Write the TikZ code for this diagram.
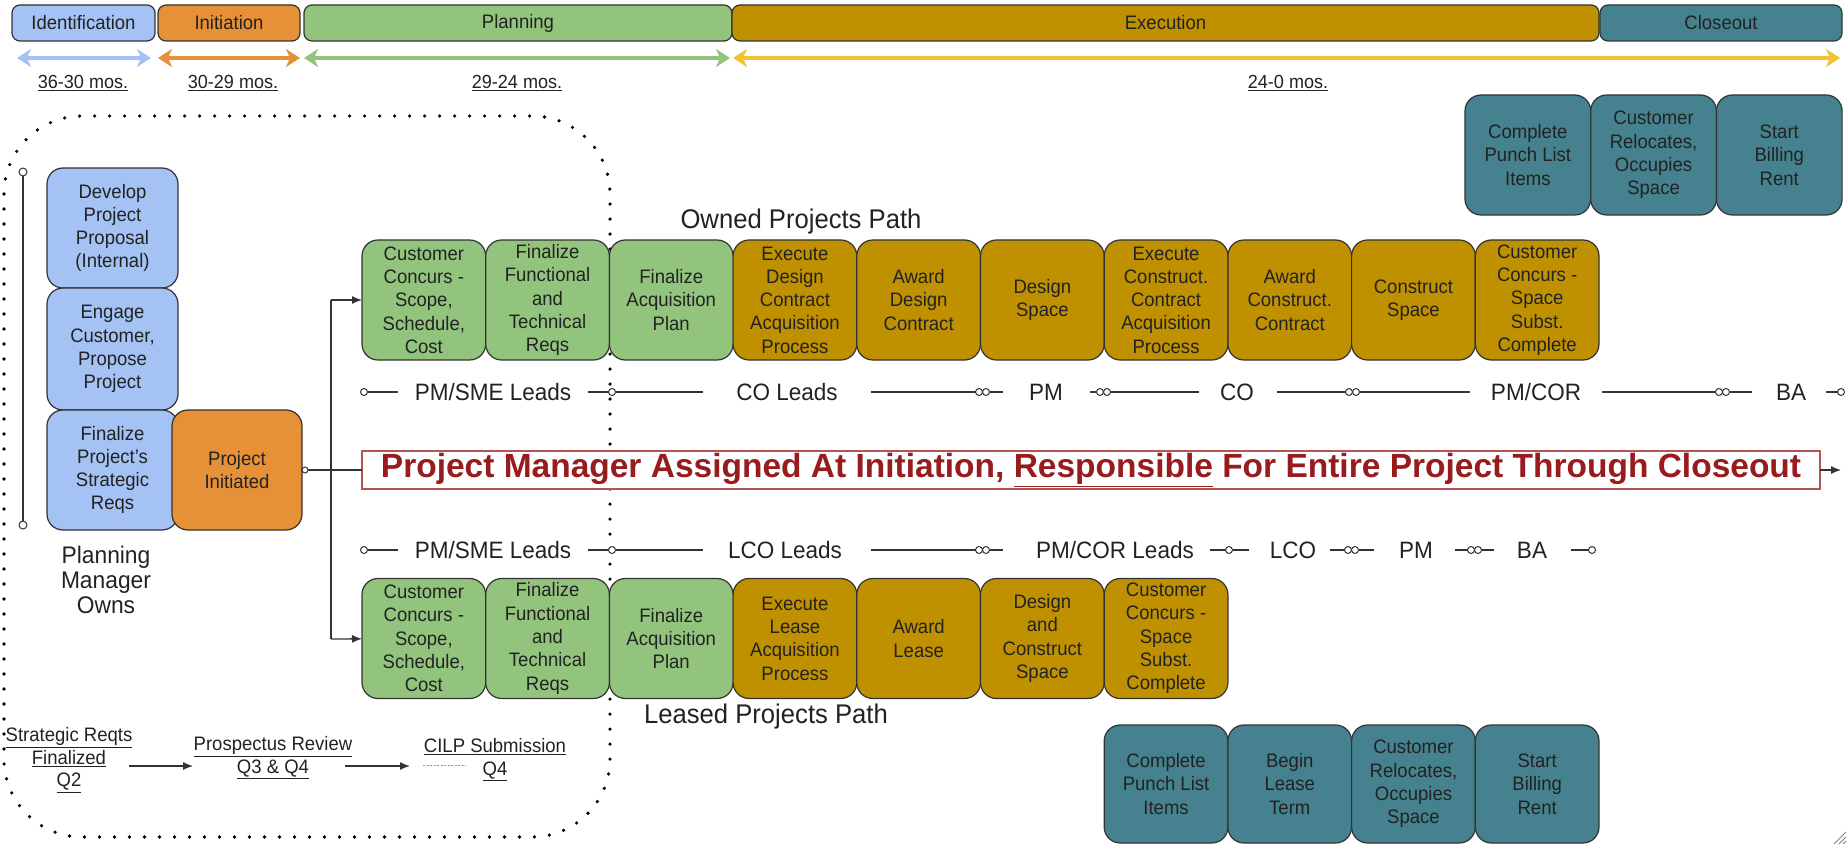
\documentclass[tikz,border=0pt]{standalone}
\usepackage{fontspec}
\setmainfont{Liberation Sans}[FakeStretch=0.95]
\newfontfamily\bannerfont{Liberation Sans}
\usetikzlibrary{arrows.meta,calc}

\definecolor{idblue}{HTML}{A4C2F4}
\definecolor{initorange}{HTML}{E69138}
\definecolor{plangreen}{HTML}{93C47D}
\definecolor{execgold}{HTML}{BF9000}
\definecolor{closeteal}{HTML}{45818E}
\definecolor{arrowyellow}{HTML}{F1C232}
\definecolor{bannerred}{HTML}{981B1E}
\definecolor{edgegray}{HTML}{333333}
\definecolor{inkgray}{HTML}{222222}

\newcommand\undl[1]{\underline{#1}}

\begin{document}
\begin{tikzpicture}[x=1pt,y=-1pt,
  every node/.style={inner sep=0pt, outer sep=0pt, text=inkgray},
  boxtext/.style={font=\fontsize{19.5}{23.3}\selectfont, align=center},
  stepbox/.style={boxtext, draw=edgegray, line width=1.2pt, rounded corners=16pt,
                  minimum width=123.7pt, minimum height=120pt},
  planbox/.style={stepbox, fill=plangreen},
  execbox/.style={stepbox, fill=execgold},
  closebox/.style={stepbox, fill=closeteal},
  phase/.style={boxtext, draw=edgegray, line width=1.2pt, rounded corners=8pt, minimum height=36pt},
  timearrow/.style={line width=4pt,
     {Stealth[length=14pt,width=18pt,inset=4pt]}-{Stealth[length=14pt,width=18pt,inset=4pt]}},
  moslabel/.style={font=\fontsize{19}{22}\selectfont},
  leadtext/.style={font=\fontsize{23.7}{26}\selectfont},
  leadline/.style={draw=edgegray, line width=1.2pt},
  ring/.style={circle, draw=edgegray, fill=white, line width=1pt, minimum size=7pt},
  flow/.style={draw=edgegray, line width=1.3pt},
  milestone/.style={font=\fontsize{19.5}{22.5}\selectfont, align=center},
  dotline/.style={draw=black, line width=3.6pt, line cap=round, dash pattern=on 0pt off 15pt}
]
\useasboundingbox (0,0) rectangle (1848,845);

% ---------- phase bar ----------
\node[phase, fill=idblue,     minimum width=143pt] (ph-id)   at (83.5,23)  {Identification};
\node[phase, fill=initorange, minimum width=142pt] (ph-init) at (229,23)   {Initiation};
\node[phase, fill=plangreen,  minimum width=428pt] (ph-plan) at (518,23)   {Planning};
\node[phase, fill=execgold,   minimum width=867pt] (ph-exec) at (1165.5,23){Execution};
\node[phase, fill=closeteal,  minimum width=242pt] (ph-close) at (1721,23) {Closeout};

% ---------- durations ----------
\coordinate (t-id-a) at (17,58);    \coordinate (t-id-b) at (151,58);
\coordinate (t-in-a) at (158,58);   \coordinate (t-in-b) at (300,58);
\coordinate (t-pl-a) at (304,58);   \coordinate (t-pl-b) at (730,58);
\coordinate (t-ex-a) at (733,58);   \coordinate (t-ex-b) at (1840,58);
\draw[timearrow, draw=idblue, fill=idblue]           (t-id-a) -- (t-id-b);
\draw[timearrow, draw=initorange, fill=initorange]   (t-in-a) -- (t-in-b);
\draw[timearrow, draw=plangreen, fill=plangreen]     (t-pl-a) -- (t-pl-b);
\draw[timearrow, draw=arrowyellow, fill=arrowyellow] (t-ex-a) -- (t-ex-b);

\node[moslabel] (mos-id)   at (83,83)   {\undl{36-30 mos.}};
\node[moslabel] (mos-init) at (233,83)  {\undl{30-29 mos.}};
\node[moslabel] (mos-plan) at (517,83)  {\undl{29-24 mos.}};
\node[moslabel] (mos-exec) at (1288,83) {\undl{24-0 mos.}};

% ---------- planning manager scope ----------
\draw[dotline] (4,116) [rounded corners=78pt] rectangle (610,837);

\node[ring, minimum size=8pt] (pm-top) at (23,172) {};
\node[ring, minimum size=8pt] (pm-bot) at (23,525) {};
\draw[leadline] (pm-top) -- (pm-bot);

\node[stepbox, fill=idblue, minimum width=131pt] (develop)  at (112.5,228) {Develop\\Project\\Proposal\\(Internal)};
\node[stepbox, fill=idblue, minimum width=131pt, minimum height=122pt] (engage) at (112.5,349) {Engage\\Customer,\\Propose\\Project};
\node[stepbox, fill=idblue, minimum width=131pt] (strategic) at (112.5,470) {Finalize\\Project's\\Strategic\\Reqs};
\node[stepbox, fill=initorange, minimum width=130pt] (initiated) at (237,470) {Project\\Initiated};

\node[font=\fontsize{24}{25}\selectfont, align=center] (pm-owns) at (106,580) {Planning\\Manager\\Owns};

% milestones
\node[milestone] (ms-reqts) at (69,760)  {\undl{Strategic Reqts}\\\undl{Finalized}\\\undl{Q2}};
\node[milestone] (ms-prosp) at (273,758) {\undl{Prospectus Review}\\\undl{Q3 \& Q4}};
\node[milestone] (ms-cilp)  at (495,760) {\undl{CILP Submission}\\\undl{Q4}};
\coordinate (ms-a1) at (129,766); \coordinate (ms-b1) at (193,766);
\coordinate (ms-a2) at (345,766); \coordinate (ms-b2) at (410,766);
\draw[flow, -{Latex[length=10pt,width=8pt]}] (ms-a1) -- (ms-b1);
\draw[flow, -{Latex[length=10pt,width=8pt]}] (ms-a2) -- (ms-b2);
\coordinate (cilp-sq-a) at (423,765); \coordinate (cilp-sq-b) at (466,765);
\draw[red!60, line width=0.9pt, dash pattern=on 2pt off 1.5pt] (cilp-sq-a) -- (cilp-sq-b);

% ---------- owned path ----------
\node[font=\fontsize{27}{30}\selectfont] (owned-title) at (801,222) {Owned Projects Path};
\node[planbox] (own1)  at (423.85,300) {Customer\\Concurs -\\Scope,\\Schedule,\\Cost};
\node[planbox] (own2)  at (547.55,300) {Finalize\\Functional\\and\\Technical\\Reqs};
\node[planbox] (own3)  at (671.25,300) {Finalize\\Acquisition\\Plan};
\node[execbox] (own4)  at (794.95,300) {Execute\\Design\\Contract\\Acquisition\\Process};
\node[execbox] (own5)  at (918.65,300) {Award\\Design\\Contract};
\node[execbox] (own6)  at (1042.35,300) {Design\\Space};
\node[execbox] (own7)  at (1166.05,300) {Execute\\Construct.\\Contract\\Acquisition\\Process};
\node[execbox] (own8)  at (1289.75,300) {Award\\Construct.\\Contract};
\node[execbox] (own9)  at (1413.45,300) {Construct\\Space};
\node[execbox] (own10) at (1537.15,300) {Customer\\Concurs -\\Space\\Subst.\\Complete};

\node[closebox, minimum width=125.7pt] (ownc1) at (1527.85,155) {Complete\\Punch List\\Items};
\node[closebox, minimum width=125.7pt] (ownc2) at (1653.55,155) {Customer\\Relocates,\\Occupies\\Space};
\node[closebox, minimum width=125.7pt] (ownc3) at (1779.25,155) {Start\\Billing\\Rent};

% owned leads
\node[ring] (o-r0) at (364,392) {};  \coordinate (o-e0) at (398,392);
\draw[leadline] (o-r0) -- (o-e0);
\node[leadtext] (o-pmsme) at (493,392) {PM/SME Leads};
\coordinate (o-s1) at (588,392); \node[ring] (o-r1) at (612,392) {}; \coordinate (o-e1) at (703,392);
\draw[leadline] (o-s1) -- (o-r1) -- (o-e1);
\node[leadtext] (o-co) at (787,392) {CO Leads};
\coordinate (o-s2) at (871,392); \node[ring] (o-r2a) at (979,392) {}; \node[ring] (o-r2b) at (986,392) {}; \coordinate (o-e2) at (1003,392);
\draw[leadline] (o-s2) -- (o-r2a); \draw[leadline] (o-r2b) -- (o-e2);
\node[leadtext] (o-pm) at (1046,392) {PM};
\coordinate (o-s3) at (1090,392); \node[ring] (o-r3a) at (1100,392) {}; \node[ring] (o-r3b) at (1107,392) {}; \coordinate (o-e3) at (1199,392);
\draw[leadline] (o-s3) -- (o-r3a); \draw[leadline] (o-r3b) -- (o-e3);
\node[leadtext] (o-co2) at (1237,392) {CO};
\coordinate (o-s4) at (1277,392); \node[ring] (o-r4a) at (1349,392) {}; \node[ring] (o-r4b) at (1356,392) {}; \coordinate (o-e4) at (1470,392);
\draw[leadline] (o-s4) -- (o-r4a); \draw[leadline] (o-r4b) -- (o-e4);
\node[leadtext] (o-pmcor) at (1536,392) {PM/COR};
\coordinate (o-s5) at (1602,392); \node[ring] (o-r5a) at (1719,392) {}; \node[ring] (o-r5b) at (1726,392) {}; \coordinate (o-e5) at (1752,392);
\draw[leadline] (o-s5) -- (o-r5a); \draw[leadline] (o-r5b) -- (o-e5);
\node[leadtext] (o-ba) at (1791,392) {BA};
\coordinate (o-s6) at (1826,392); \node[ring] (o-r6) at (1841,392) {};
\draw[leadline] (o-s6) -- (o-r6);

% ---------- banner ----------
\node[draw=bannerred!75, line width=1.3pt, fill=white, minimum width=1458pt, minimum height=38pt,
      font=\bannerfont\bfseries\fontsize{33.5}{36}\selectfont, text=bannerred] (banner) at (1091,470)
      {Project Manager Assigned At Initiation, \underline{Responsible} For Entire Project Through Closeout};
\coordinate (banner-end) at (1841,470);
\draw[flow, -{Latex[length=10pt,width=8pt]}] (banner) -- (banner-end);

% ---------- split from initiation ----------
\node[ring, minimum size=6pt] (pi-ring) at (305,470) {};
\draw[flow] (initiated) -- (pi-ring);
\draw[flow] (pi-ring) -- (banner);
\coordinate (split-top) at (331,300);
\coordinate (split-bot) at (331,639);
\draw[flow] (split-top) -- (split-bot);

% ---------- leased path ----------
\node[planbox] (lease1) at (423.85,638.5) {Customer\\Concurs -\\Scope,\\Schedule,\\Cost};
\node[planbox] (lease2) at (547.55,638.5) {Finalize\\Functional\\and\\Technical\\Reqs};
\node[planbox] (lease3) at (671.25,638.5) {Finalize\\Acquisition\\Plan};
\node[execbox] (lease4) at (794.95,638.5) {Execute\\Lease\\Acquisition\\Process};
\node[execbox] (lease5) at (918.65,638.5) {Award\\Lease};
\node[execbox] (lease6) at (1042.35,638.5) {Design\\and\\Construct\\Space};
\node[execbox] (lease7) at (1166.05,638.5) {Customer\\Concurs -\\Space\\Subst.\\Complete};
\node[font=\fontsize{27}{30}\selectfont] (leased-title) at (766,717) {Leased Projects Path};

\node[closebox, minimum height=118pt] (leasec1) at (1166.05,784) {Complete\\Punch List\\Items};
\node[closebox, minimum height=118pt] (leasec2) at (1289.75,784) {Begin\\Lease\\Term};
\node[closebox, minimum height=118pt] (leasec3) at (1413.45,784) {Customer\\Relocates,\\Occupies\\Space};
\node[closebox, minimum height=118pt] (leasec4) at (1537.15,784) {Start\\Billing\\Rent};

\draw[flow, -{Latex[length=10pt,width=8pt]}] (split-top) -- (own1);
\draw[flow, -{Latex[length=10pt,width=8pt]}] (split-bot) -- (lease1);

% leased leads
\node[ring] (l-r0) at (364,550) {};  \coordinate (l-e0) at (398,550);
\draw[leadline] (l-r0) -- (l-e0);
\node[leadtext] (l-pmsme) at (493,550) {PM/SME Leads};
\coordinate (l-s1) at (588,550); \node[ring] (l-r1) at (612,550) {}; \coordinate (l-e1) at (703,550);
\draw[leadline] (l-s1) -- (l-r1) -- (l-e1);
\node[leadtext] (l-lco) at (785,550) {LCO Leads};
\coordinate (l-s2) at (871,550); \node[ring] (l-r2a) at (979,550) {}; \node[ring] (l-r2b) at (986,550) {}; \coordinate (l-e2) at (1003,550);
\draw[leadline] (l-s2) -- (l-r2a); \draw[leadline] (l-r2b) -- (l-e2);
\node[leadtext] (l-pmcor) at (1115,550) {PM/COR Leads};
\coordinate (l-s3) at (1210,550); \node[ring] (l-r3) at (1229,550) {}; \coordinate (l-e3) at (1249,550);
\draw[leadline] (l-s3) -- (l-r3) -- (l-e3);
\node[leadtext] (l-lco2) at (1293,550) {LCO};
\coordinate (l-s4) at (1330,550); \node[ring] (l-r4a) at (1348,550) {}; \node[ring] (l-r4b) at (1355,550) {}; \coordinate (l-e4) at (1374,550);
\draw[leadline] (l-s4) -- (l-r4a); \draw[leadline] (l-r4b) -- (l-e4);
\node[leadtext] (l-pm) at (1416,550) {PM};
\coordinate (l-s5) at (1455,550); \node[ring] (l-r5a) at (1471,550) {}; \node[ring] (l-r5b) at (1478,550) {}; \coordinate (l-e5) at (1494,550);
\draw[leadline] (l-s5) -- (l-r5a); \draw[leadline] (l-r5b) -- (l-e5);
\node[leadtext] (l-ba) at (1532,550) {BA};
\coordinate (l-s6) at (1571,550); \node[ring] (l-r6) at (1592,550) {};
\draw[leadline] (l-s6) -- (l-r6);

% ---------- resize grip ----------
\coordinate (grip-a1) at (1834,844); \coordinate (grip-b1) at (1846,832);
\coordinate (grip-a2) at (1839,844); \coordinate (grip-b2) at (1846,837);
\coordinate (grip-a3) at (1843,844); \coordinate (grip-b3) at (1846,841);
\draw[gray, line width=0.8pt] (grip-a1) -- (grip-b1) (grip-a2) -- (grip-b2) (grip-a3) -- (grip-b3);
\end{tikzpicture}
\end{document}
